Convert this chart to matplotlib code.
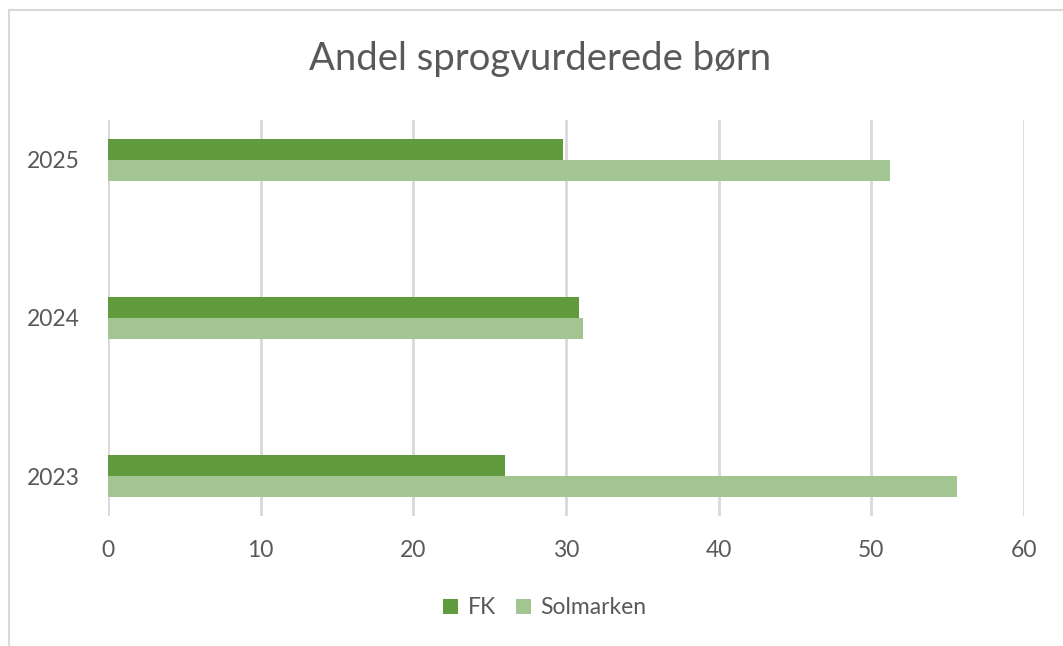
import matplotlib.pyplot as plt
import numpy as np
from matplotlib.patches import Rectangle

years = ["2023", "2024", "2025"]
fk = [26.0, 30.85, 29.8]
solmarken = [55.6, 31.1, 51.2]
series_names = ["FK", "Solmarken"]
colors = ["#629a3e", "#a3c592"]
xticks = [0, 10, 20, 30, 40, 50, 60]

W, H = 1063, 646
fig = plt.figure(figsize=(W / 100, H / 100), dpi=100)
plt.rcParams['font.family'] = ['Lato', 'DejaVu Sans']

# outer chart frame (light gray, right/bottom cut off)
fig.patches.append(Rectangle((9 / W, -0.1), 1.2, 1 - 10 / H + 0.1,
                             transform=fig.transFigure, fill=False,
                             edgecolor="#d9d9d9", linewidth=1.5))

ax = fig.add_axes([108 / W, (H - 516) / H, (1024 - 108) / W, (516 - 120) / H])
y = np.arange(len(years))
h = 0.133
ax.barh(y + h / 2, fk, height=h, color=colors[0], label=series_names[0], zorder=3)
ax.barh(y - h / 2, solmarken, height=h, color=colors[1], label=series_names[1], zorder=3)

ax.set_xlim(0, 60)
ax.set_ylim(-0.25, 2.25)
ax.set_xticks(xticks)
ax.set_yticks(y)
ax.set_yticklabels(years)
ax.grid(axis="x", color="#d9d9d9", linewidth=2, zorder=0)
for s in ax.spines.values():
    s.set_visible(False)
ax.tick_params(length=0, labelsize=16.5, labelcolor="#595959")
ax.tick_params(axis="x", pad=17)
ax.tick_params(axis="y", pad=20)

fig.text(540 / W, 1 - 59 / H, "Andel sprogvurderede børn", ha="center", va="center",
         fontsize=27.5, color="#595959")

leg = fig.legend(loc="center", bbox_to_anchor=(545 / W, 1 - 608 / H), ncol=2,
                 frameon=False, fontsize=16.5, handlelength=0.65, handleheight=0.65,
                 handletextpad=0.4, columnspacing=0.9)
for t in leg.get_texts():
    t.set_color("#595959")

fig.savefig("out.png", dpi=100)
